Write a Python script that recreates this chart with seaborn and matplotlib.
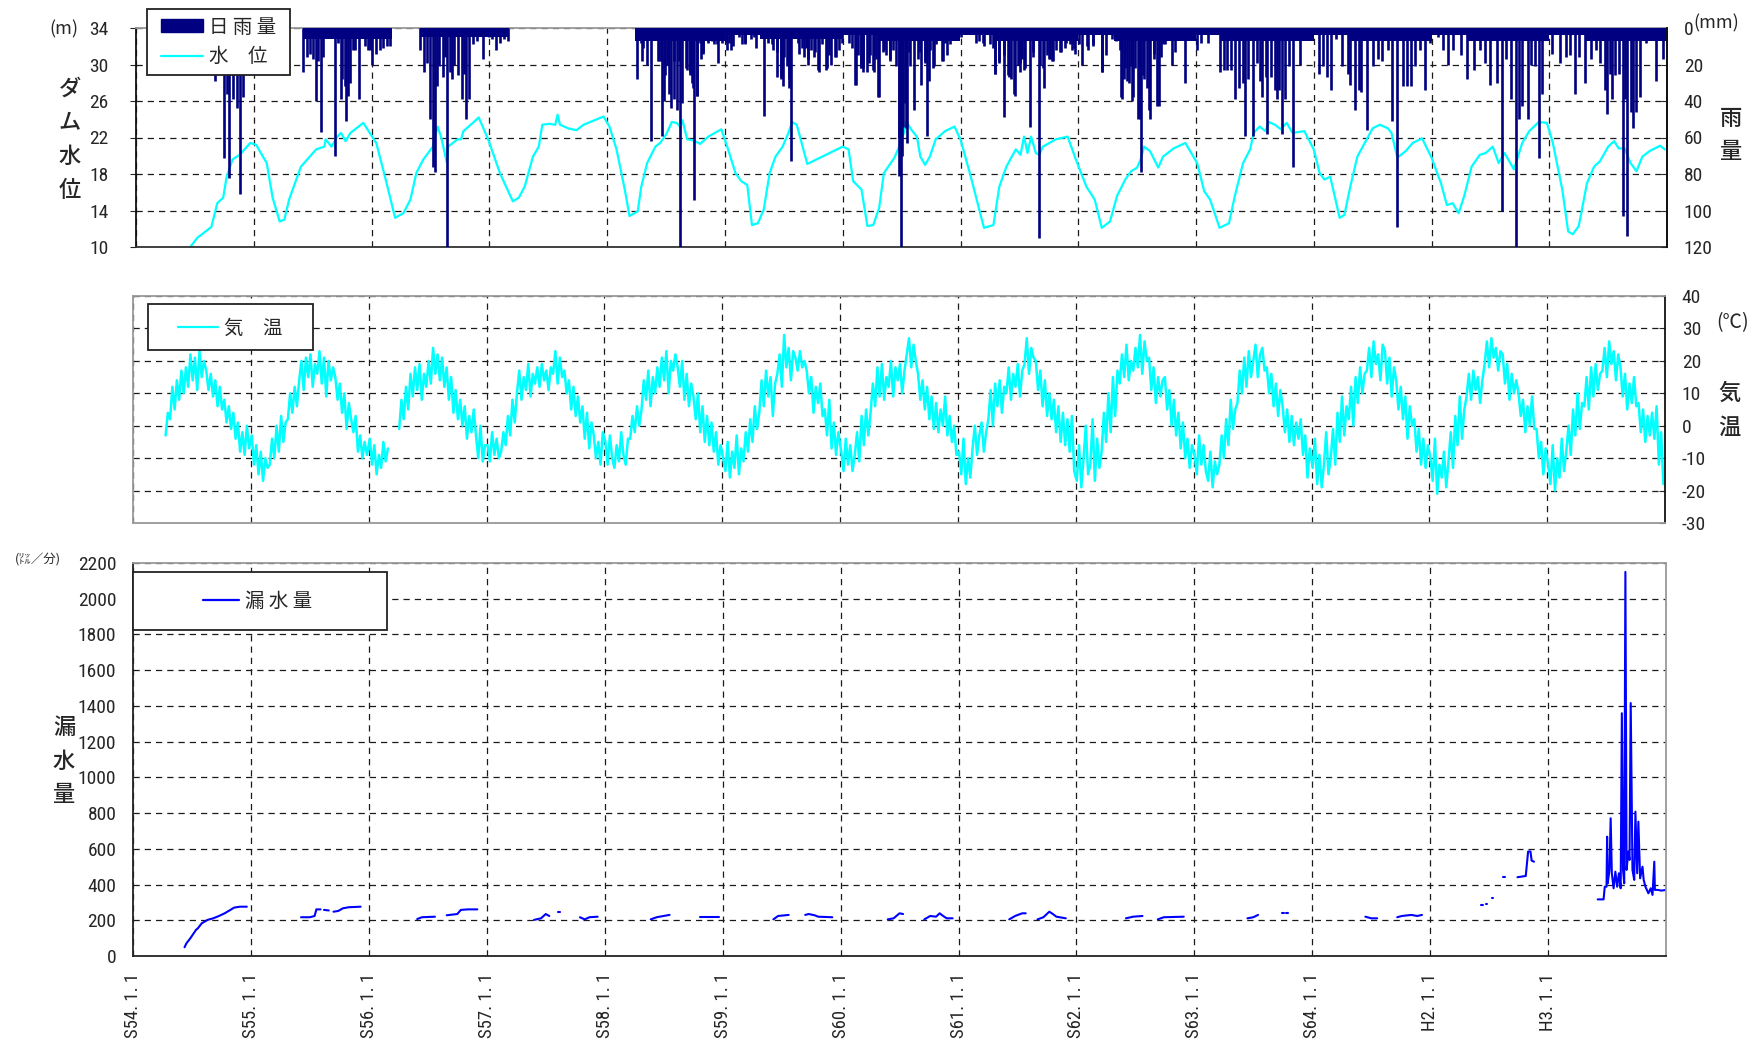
import numpy as np
import pandas as pd
import matplotlib
matplotlib.use("Agg")
import matplotlib.pyplot as plt
import matplotlib.font_manager as fm
import seaborn as sns
from matplotlib.patches import Rectangle, Patch
from matplotlib.lines import Line2D

nan = np.nan

# ---------------- data ----------------
year_tick_labels = ['S54. 1. 1', 'S55. 1. 1', 'S56. 1. 1', 'S57. 1. 1', 'S58. 1. 1',
                    'S59. 1. 1', 'S60. 1. 1', 'S61. 1. 1', 'S62. 1. 1', 'S63. 1. 1',
                    'S64. 1. 1', 'H2. 1. 1', 'H3. 1. 1']
first_year = 1979

# dam water level (years since 1979-01-01, metres)
wl_year = [0.46, 0.52, 0.64, 0.69, 0.74, 0.77, 0.82, 0.88, 0.97, 1.02, 1.11, 1.16, 1.22, 1.26, 1.30,
           1.40, 1.53, 1.60, 1.61, 1.66, 1.71, 1.74, 1.78, 1.82, 1.93, 2.04, 2.12, 2.20, 2.27, 2.33,
           2.38, 2.44, 2.52, 2.56, 2.59, 2.64, 2.65, 2.73, 2.76, 2.78, 2.86, 2.91, 2.99, 3.09, 3.20,
           3.25, 3.30, 3.37, 3.42, 3.45, 3.51, 3.56, 3.58, 3.60, 3.67, 3.74, 3.80, 3.97, 4.02, 4.08,
           4.15, 4.19, 4.26, 4.29, 4.34, 4.41, 4.45, 4.50, 4.55, 4.59, 4.62, 4.64, 4.68, 4.73, 4.79,
           4.86, 4.97, 5.02, 5.09, 5.14, 5.19, 5.23, 5.28, 5.33, 5.38, 5.43, 5.49, 5.54, 5.57, 5.61,
           5.70, 6.00, 6.05, 6.09, 6.16, 6.21, 6.26, 6.31, 6.35, 6.44, 6.48, 6.52, 6.54, 6.58, 6.63,
           6.66, 6.70, 6.74, 6.79, 6.87, 6.95, 7.00, 7.08, 7.20, 7.28, 7.33, 7.39, 7.47, 7.51, 7.54,
           7.57, 7.60, 7.64, 7.67, 7.70, 7.81, 7.91, 7.98, 8.07, 8.14, 8.20, 8.27, 8.33, 8.40, 8.45,
           8.50, 8.53, 8.56, 8.61, 8.68, 8.72, 8.81, 8.91, 9.01, 9.07, 9.12, 9.20, 9.28, 9.33, 9.40,
           9.46, 9.49, 9.54, 9.59, 9.62, 9.67, 9.72, 9.77, 9.82, 9.92, 10.00, 10.05, 10.09, 10.14, 10.22,
           10.26, 10.31, 10.37, 10.45, 10.50, 10.56, 10.63, 10.66, 10.71, 10.78, 10.84, 10.92, 11.00, 11.08, 11.13,
           11.18, 11.23, 11.28, 11.34, 11.41, 11.46, 11.52, 11.57, 11.62, 11.70, 11.77, 11.83, 11.91, 11.98, 12.03,
           12.11, 12.16, 12.20, 12.25, 12.32, 12.38, 12.43, 12.50, 12.55, 12.59, 12.64, 12.69, 12.74, 12.79, 12.85,
           12.94, 12.98]
wl_m = [10.0, 11.0, 12.2, 14.8, 15.4, 17.7, 19.6, 20.1, 21.4, 21.2, 19.2, 15.4, 12.8, 13.0, 15.2,
        18.8, 20.7, 21.0, 21.8, 21.0, 22.1, 22.5, 21.6, 22.5, 23.6, 21.4, 17.4, 13.2, 13.7, 15.2,
        18.1, 19.6, 21.0, 23.2, 22.1, 19.2, 21.0, 21.8, 21.8, 22.7, 23.6, 24.2, 21.8, 18.1, 15.0,
        15.4, 16.6, 19.9, 21.0, 23.4, 23.5, 23.4, 24.5, 23.4, 23.0, 22.8, 23.4, 24.3, 23.2, 20.7,
        16.3, 13.4, 13.9, 16.6, 19.2, 21.0, 21.4, 22.3, 23.7, 23.6, 23.2, 23.9, 21.8, 21.7, 21.3,
        22.1, 22.9, 21.0, 18.1, 17.2, 16.8, 12.4, 12.6, 14.1, 18.1, 19.9, 21.0, 22.5, 23.7, 23.4,
        19.1, 21.0, 20.7, 17.2, 16.3, 12.3, 12.4, 14.3, 18.1, 19.8, 21.0, 22.5, 23.8, 22.9, 22.1,
        19.9, 19.0, 19.9, 21.8, 22.7, 23.2, 21.8, 18.1, 12.1, 12.4, 16.6, 18.8, 20.7, 20.1, 22.1,
        20.3, 22.1, 20.3, 20.1, 21.0, 21.8, 22.1, 19.6, 16.6, 15.2, 12.1, 12.8, 15.6, 17.4, 18.3,
        18.7, 19.6, 21.0, 20.5, 18.7, 19.9, 20.8, 21.4, 19.2, 16.1, 15.2, 12.1, 12.6, 15.6, 19.2,
        20.7, 22.5, 23.2, 22.7, 23.7, 23.4, 22.9, 23.6, 22.5, 22.7, 20.7, 18.1, 17.4, 17.7, 13.2,
        13.5, 16.6, 19.9, 21.8, 23.0, 23.4, 23.0, 22.5, 19.8, 20.5, 21.4, 21.9, 19.8, 17.0, 14.6,
        14.8, 13.7, 15.7, 18.8, 20.1, 20.3, 21.0, 19.2, 20.3, 18.5, 21.4, 22.7, 23.7, 23.6, 21.4,
        16.3, 11.7, 11.4, 12.3, 17.0, 18.8, 19.4, 21.0, 21.6, 20.8, 20.8, 19.2, 18.3, 19.9, 20.5,
        21.1, 20.7]

# daily rainfall spikes (years since 1979-01-01, mm)
rain_year = [0.672, 0.705, 0.747, 0.769, 0.786, 0.825, 0.857, 0.883, 0.909, 1.247,
             1.419, 1.451, 1.474, 1.500, 1.526, 1.549, 1.575, 1.591, 1.688, 1.711, 1.737, 1.753,
             1.776, 1.786, 1.799, 1.818, 1.841, 1.857, 1.890, 1.948, 1.971, 1.987, 2.003, 2.036,
             2.068, 2.101, 2.133, 2.156,
             2.409, 2.448, 2.474, 2.500, 2.523, 2.539, 2.555, 2.571, 2.604, 2.620, 2.643, 2.669,
             2.685, 2.701, 2.734, 2.766, 2.782, 2.805, 2.831, 2.864, 2.896, 2.945, 2.994, 3.026,
             3.058, 3.091, 3.123, 3.156,
             4.250, 4.292, 4.341, 4.373, 4.406, 4.438, 4.464, 4.487, 4.510, 4.529, 4.545, 4.568,
             4.594, 4.607, 4.623, 4.640, 4.682, 4.705, 4.721, 4.740, 4.766, 4.789, 4.815, 4.860,
             4.942, 4.990, 5.039, 5.071, 5.120, 5.169, 5.218, 5.250, 5.331, 5.364, 5.412, 5.445,
             5.477, 5.526, 5.542, 5.565, 5.623, 5.672, 5.705, 5.753, 5.795, 5.867, 5.899, 5.938,
             5.997, 6.045, 6.110, 6.153, 6.175, 6.224, 6.256, 6.305, 6.354, 6.403, 6.451, 6.477,
             6.494, 6.516, 6.532, 6.549, 6.575, 6.607, 6.662, 6.695, 6.718, 6.743, 6.776, 6.841,
             6.873, 6.938, 7.003, 7.133, 7.198, 7.295, 7.328, 7.367, 7.409, 7.458, 7.506, 7.539,
             7.594, 7.620, 7.669, 7.708, 7.750, 7.782, 7.847, 7.896, 7.945, 7.977, 8.010, 8.075,
             8.123, 8.205, 8.286, 8.318, 8.360, 8.393, 8.432, 8.464, 8.513, 8.536, 8.562, 8.604,
             8.643, 8.682, 8.724, 8.773, 8.821,
             8.909, 8.958, 9.006, 9.039, 9.104, 9.169, 9.201, 9.234, 9.266, 9.299, 9.331, 9.364,
             9.396, 9.419, 9.445, 9.484, 9.519, 9.542, 9.558, 9.591, 9.607, 9.640, 9.672, 9.688,
             9.705, 9.727, 9.753, 9.786, 9.825, 9.883, 9.932, 9.981, 10.045, 10.078, 10.110, 10.143,
             10.192, 10.240, 10.289, 10.305, 10.354, 10.386, 10.403, 10.451, 10.500, 10.549, 10.581, 10.630,
             10.662, 10.711, 10.760, 10.792, 10.825, 10.857, 10.906, 10.948, 10.987, 11.052, 11.101, 11.143,
             11.182, 11.247, 11.302, 11.360, 11.409, 11.458, 11.497, 11.555, 11.597, 11.636, 11.675, 11.718,
             11.744, 11.766, 11.815, 11.847, 11.880, 11.912, 11.938, 11.977, 12.026, 12.091, 12.140, 12.172,
             12.221, 12.253, 12.302, 12.351, 12.399, 12.432, 12.474, 12.490, 12.513, 12.529, 12.562, 12.594,
             12.627, 12.643, 12.659, 12.692, 12.708, 12.740, 12.773, 12.821, 12.854, 12.903, 12.935, 12.968]
rain_mm = [29, 23, 71, 36, 82, 39, 44, 91, 38, 26,
           24, 16, 14, 17, 40, 18, 57, 16, 70, 8, 39, 28,
           32, 51, 37, 30, 12, 12, 39, 10, 12, 12, 20, 14,
           12, 11, 10, 10,
           12, 24, 19, 50, 76, 79, 32, 21, 27, 16, 120, 24,
           28, 20, 26, 39, 25, 50, 39, 9, 7, 17, 5, 6,
           12, 8, 6, 7,
           28, 8, 20, 62, 3, 18, 59, 40, 20, 36, 44, 39,
           45, 18, 120, 41, 23, 26, 30, 94, 37, 8, 14, 8,
           19, 6, 8, 10, 5, 8, 6, 5, 48, 8, 12, 27,
           28, 21, 33, 73, 8, 16, 20, 16, 24, 22, 20, 16,
           8, 3, 31, 22, 24, 19, 23, 38, 12, 17, 21, 81,
           120, 54, 41, 63, 21, 45, 31, 19, 59, 12, 21, 18,
           8, 5, 5, 8, 10, 25, 19, 49, 27, 36, 19, 23,
           54, 16, 115, 33, 17, 18, 13, 8, 12, 14, 9, 10,
           9, 24, 6, 7, 38, 28, 30, 38, 29, 79, 28, 45,
           14, 43, 9, 5, 4,
           30, 6, 12, 8, 8, 3, 24, 23, 23, 23, 39, 33,
           30, 59, 28, 59, 19, 29, 38, 27, 58, 27, 34, 39,
           34, 58, 39, 21, 76, 20, 6, 5, 25, 21, 27, 34,
           6, 21, 25, 31, 45, 34, 35, 56, 21, 17, 18, 12,
           51, 109, 32, 32, 32, 21, 12, 34, 8, 5, 12, 20,
           12, 15, 28, 23, 12, 19, 31, 30, 100, 17, 39, 120,
           50, 43, 50, 20, 21, 71, 36, 3, 14, 19, 16, 15,
           36, 16, 30, 17, 12, 19, 34, 47, 25, 39, 26, 25,
           103, 39, 114, 46, 55, 46, 38, 8, 6, 29, 5, 17]

# further daily readings read from the dense 1983-1987 stretch
rain2_year = [4.294, 4.309, 4.430, 4.461, 4.491, 4.521, 4.567, 4.673, 4.703, 4.733, 4.764, 4.794, 4.818,
              4.855, 4.891, 4.909, 4.930, 4.976, 5.006, 5.021, 5.052, 5.142, 5.173, 5.264, 5.400, 5.445,
              5.476, 5.491, 5.506, 5.536, 5.545, 5.627, 5.658, 5.688, 5.703, 5.733, 5.764, 5.794, 5.824,
              5.855, 5.885, 5.945, 5.970, 6.052, 6.082, 6.106, 6.127, 6.152, 6.173, 6.203, 6.233, 6.264,
              6.279, 6.303, 6.339, 6.370, 6.400, 6.430, 6.476, 6.506, 6.536, 6.567, 6.642, 6.658, 6.697,
              6.733, 6.764, 6.794, 6.855, 6.885, 6.915, 7.158, 7.188, 7.248, 7.279, 7.294, 7.324, 7.370,
              7.400, 7.430, 7.461, 7.485, 7.506, 7.521, 7.552, 7.612, 7.673, 7.703, 7.733, 7.764, 7.779,
              7.809, 7.855, 7.885, 7.930, 7.961, 8.036, 8.082, 8.127, 8.203, 8.233, 8.355, 8.370, 8.394,
              8.415, 8.445, 8.461, 8.485, 8.506, 8.527, 8.552, 8.582, 8.612, 8.642, 8.673, 8.703, 8.733,
              8.794, 8.824]
rain2_mm = [18, 11, 18, 18, 26, 18, 18, 22, 24, 33, 37, 17, 13,
            7, 7, 9, 9, 8, 8, 12, 12, 9, 9, 11, 9, 13,
            27, 32, 16, 16, 28, 14, 11, 11, 17, 12, 13, 23, 9,
            23, 15, 16, 12, 8, 11, 31, 15, 22, 22, 24, 15, 24,
            17, 38, 13, 15, 18, 12, 60, 70, 55, 13, 17, 13, 18,
            29, 22, 9, 18, 15, 9, 7, 8, 9, 11, 25, 18, 15,
            26, 28, 37, 20, 24, 17, 22, 13, 20, 22, 15, 17, 18,
            12, 13, 11, 9, 11, 20, 12, 10, 24, 15, 12, 39, 22,
            29, 21, 40, 22, 50, 50, 26, 33, 50, 17, 43, 16, 9,
            20, 13]

# dense light-rain band hanging from the top (start year, end year, depth mm)
rain_band_start = [0.60, 1.42, 2.41, 4.24, 5.00, 5.30, 6.00, 6.30, 7.00, 7.30,
                   8.00, 8.30, 9.00, 9.20, 10.00, 10.30, 11.00, 11.30, 12.00, 12.30]
rain_band_end = [1.30, 2.17, 3.17, 5.00, 5.30, 6.00, 6.30, 7.00, 7.30, 8.00,
                 8.30, 9.00, 9.20, 10.00, 10.30, 11.00, 11.30, 12.00, 12.30, 13.00]
rain_band_mm = [5, 6, 5, 7, 4, 6, 4, 7, 4, 7,
                4, 7, 4, 7, 4, 7, 4, 7, 4, 7]

# air temperature, weekly readings per calendar year (deg C)
temp_1979 = [nan] * 14 + [-3, 4, 2, 12, 5, 14, 8, 17, 10, 18, 12, 22, 14, 21, 11, 23, 15, 20, 17, 11,
                          16, 9, 14, 6, 12, 5, 8, 1, 6, -1, 4, -4, 1, -8, -2, -9, 0, -7]
temp_1980 = [-3, -12, -6, -15, -8, -17, -10, -13, -12, -4, -10, 0, -8, 3, -5, 1, 2, 10, 4, 12, 6, 14, 20, 11,
             21, 15, 22, 12, 19, 16, 23, 13, 21, 9, 20, 14, 18, 15, 8, 13, 4, 10, -1, 7, 2, -2, 3, -8, -3,
             -10, -5, -9]
temp_1981 = [-4, -12, -6, -15, -9, -13, -5, -11, -7, nan, nan, nan, nan, -1, 8, 2, 12, 5, 16, 9, 18, 11, 19,
             8, 16, 12, 20, 13, 24, 16, 22, 14, 21, 12, 18, 8, 15, 4, 11, 2, 8, 0, 6, -4, 3, -2, 5, -3, -10,
             0, -11, -6]
temp_1982 = [-6, -11, -2, -9, -4, -10, -8, -2, -6, 3, -3, 8, 1, 10, 17, 8, 15, 11, 19, 9, 16, 13, 18, 12, 19,
             14, 17, 11, 18, 16, 23, 13, 21, 15, 17, 10, 14, 5, 12, 3, 9, 1, 6, -4, 4, -7, 1, -3, -10, -5,
             -12, -2]
temp_1983 = [-5, -12, -3, -10, -13, -6, -11, -2, -9, -12, -4, -4, 3, -2, 6, 0, 5, 14, 8, 17, 6, 15, 10, 18,
             12, 21, 14, 23, 10, 20, 17, 22, 18, 12, 20, 8, 16, 6, 13, 9, 2, 10, -2, 6, -5, 3, -6, 1, -8, -2,
             -12, -6]
temp_1984 = [-10, -14, -5, -16, -8, -13, -3, -15, -7, -11, -2, -8, 2, -5, 6, -1, 4, 14, 6, 17, 9, 15, 3, 13,
             16, 22, 12, 28, 18, 24, 14, 23, 21, 17, 23, 18, 20, 17, 10, 15, 4, 12, 7, 13, 3, 5, -3, 8, -7,
             1, -9, -2]
temp_1985 = [-8, -14, -4, -12, -6, -14, -9, -2, -11, 3, -6, 5, -3, 4, 13, 6, 18, 9, 19, 8, 15, 12, 20, 9, 18,
             14, 19, 10, 17, 22, 27, 18, 25, 20, 16, 8, 14, 5, 12, 2, 9, -1, 7, -2, 5, 0, 9, -3, 3, -5, 0, -9]
temp_1986 = [-8, -15, -4, -18, -10, -16, -7, 0, -9, -3, 1, -8, -2, 2, 11, 0, 13, 6, 14, 4, 12, 10, 18, 8, 16,
             12, 19, 9, 17, 19, 27, 16, 24, 21, 20, 11, 17, 6, 14, 3, 10, 2, 8, -2, 6, -5, 4, -6, 2, -8, 3,
             -14]
temp_1987 = [-17, -6, -19, -10, 0, -15, -12, 2, -17, -4, -13, -8, 4, -5, 10, -2, 15, 3, 17, 13, 22, 15, 25,
             14, 20, 17, 24, 18, 28, 16, 26, 20, 21, 11, 18, 7, 15, 9, 14, 15, 5, 11, 0, 8, -3, 4, -7, 1,
             -10, -4, -13, -6]
temp_1988 = [-9, -15, -3, -12, -6, -14, -17, -8, -19, -11, -15, -12, -3, -10, 2, -6, 8, -1, 5, 7, 17, 10, 21,
             12, 23, 15, 20, 25, 15, 22, 24, 17, 18, 10, 16, 6, 13, 3, 11, 6, -2, 5, -5, 3, -6, 1, -4, 2, -9,
             -3, -16, -7]
temp_1989 = [-13, -4, -18, -9, -19, -12, -2, -15, -10, -1, -12, 4, -5, 9, -3, 6, 2, 12, 0, 15, 7, 18, 10, 16,
             17, 24, 15, 26, 19, 22, 14, 25, 23, 13, 21, 9, 18, 14, 5, 12, 2, 9, -4, 6, 0, 2, -8, -1, -12,
             -4, -13, -6]
temp_1990 = [-10, -17, -4, -21, -12, -16, -8, -19, -11, -2, -13, 3, -6, 9, -4, 5, 9, 16, 8, 17, 11, 15, 7,
             14, 19, 26, 18, 27, 21, 24, 17, 23, 22, 13, 19, 8, 16, 10, 14, 10, 3, 8, -2, 6, 0, 9, -1, -1,
             -10, -5, -15, -7]
temp_1991 = [-12, -18, -6, -20, -10, -16, -4, -14, -8, 0, -9, 5, -3, 10, -1, 7, 6, 15, 5, 18, 9, 19, 11, 16,
             17, 24, 15, 26, 19, 23, 14, 22, 18, 9, 16, 5, 13, 7, 15, 6, 7, -2, 5, -5, 3, -3, 4, -4, 6, -12,
             -2, -18]

# leakage (years since 1979-01-01, litres/min, record segment id)
leak_year = [0.437, 0.453, 0.486, 0.534, 0.550, 0.583, 0.632, 0.680, 0.729, 0.777, 0.826, 0.858, 0.907, 0.965,
             1.425, 1.500, 1.540, 1.555, 1.590, 1.620, 1.660, 1.700, 1.740, 1.780, 1.830, 1.930,
             2.410, 2.450, 2.560, 2.660, 2.750, 2.780, 2.840, 2.920,
             3.400, 3.460, 3.500, 3.530, 3.600, 3.620, 3.790, 3.830, 3.870, 3.940,
             4.390, 4.440, 4.550, 4.810, 4.970,
             5.430, 5.470, 5.560, 5.700, 5.730, 5.780, 5.810, 5.930,
             6.400, 6.450, 6.500, 6.530, 6.710, 6.760, 6.810, 6.840, 6.870, 6.900, 6.950,
             7.430, 7.480, 7.540, 7.570, 7.670, 7.720, 7.770, 7.800, 7.830, 7.910,
             8.420, 8.480, 8.560, 8.690, 8.740, 8.910,
             9.450, 9.500, 9.540, 9.740, 9.760, 9.780, 9.790,
             10.450, 10.500, 10.550, 10.720, 10.760, 10.840, 10.890, 10.930,
             11.430, 11.450, 11.470, 11.480, 11.520, 11.530, 11.620, 11.630,
             11.740, 11.810, 11.830, 11.850, 11.860, 11.880,
             12.420, 12.470, 12.480, 12.495, 12.500, 12.505, 12.520, 12.530, 12.540, 12.555, 12.570,
             12.585, 12.600, 12.615, 12.625, 12.635, 12.645, 12.655, 12.665, 12.680, 12.690, 12.700,
             12.715, 12.730, 12.740, 12.755, 12.765, 12.780, 12.800, 12.810, 12.825, 12.850, 12.870,
             12.885, 12.900, 12.905, 12.930, 12.960, 13.000]
leak_lpm = [49, 71, 99, 146, 155, 183, 202, 211, 224, 239, 258, 271, 276, 276,
            217, 217, 224, 261, 261, 258, 255, 248, 252, 267, 273, 276,
            207, 217, 220, 228, 235, 258, 261, 261,
            202, 211, 235, 224, 245, 245, 217, 205, 217, 220,
            205, 217, 230, 217, 217,
            205, 224, 230, 230, 235, 228, 220, 217,
            205, 211, 239, 235, 205, 224, 220, 239, 224, 211, 211,
            205, 224, 239, 239, 205, 217, 248, 235, 220, 211,
            211, 220, 224, 205, 217, 220,
            211, 217, 230, 239, 239, 239, 239,
            220, 211, 211, 217, 224, 230, 224, 230,
            286, 286, 291, 291, 327, 327, 441, 441,
            441, 448, 585, 585, 534, 528,
            317, 317, 388, 388, 668, 407, 482, 771, 463, 379, 472,
            388, 463, 379, 1359, 482, 407, 2150, 482, 585, 538, 1416,
            482, 426, 808, 463, 752, 435, 500, 426, 388, 351, 379,
            342, 528, 370, 370, 366, 370]
leak_seg = [1] * 14 + [2] * 5 + [3] * 2 + [4] * 5 + [5] * 3 + [6] * 5 + [7] * 4 + [8] * 2 + [9] * 4 + \
           [10] * 3 + [11] * 2 + [12] * 3 + [13] * 5 + [14] * 4 + [15] * 7 + [16] * 4 + [17] * 6 + \
           [18] * 3 + [19] * 3 + [20] * 3 + [21] * 2 + [22] * 2 + [23] * 3 + [24] * 5 + \
           [25] * 2 + [26] * 2 + [27] * 2 + [28] * 2 + [29] * 6 + [30] * 39

# ---------------- helpers ----------------
BASE = pd.Timestamp('1979-01-01')


def to_dates(years):
    return BASE + pd.to_timedelta(np.asarray(years, dtype=float) * 365.25, unit='D')


W, H = 1765, 1044


def fx(px):
    return px / W


def fy(py):
    return 1 - py / H


NAVY = '#000080'
CYAN = '#00FFFF'
BLUE = '#0000FF'
GRID = dict(color='#1a1a1a', linestyle=(0, (5, 4)), linewidth=0.9)

sns.set_style('white')

# pick a narrow latin face for the numbers if one is installed
_fonts = fm.fontManager.ttflist
_names = {f.name for f in _fonts}
NUM_FAMILY = None
NUM_STRETCH = 'normal'
for cand in ['Roboto Condensed', 'Liberation Sans Narrow', 'Arial Narrow', 'Open Sans Condensed',
             'DejaVu Sans Condensed', 'Noto Sans Condensed']:
    if cand in _names:
        NUM_FAMILY = cand
        break
if NUM_FAMILY is None:
    cond = [f for f in _fonts if 'ondensed' in f.fname or 'Narrow' in f.fname]
    if cond:
        NUM_FAMILY = cond[0].name
        NUM_STRETCH = cond[0].stretch
if NUM_FAMILY is None:
    NUM_FAMILY = 'Liberation Sans'

plt.rcParams['font.family'] = [NUM_FAMILY, 'Noto Sans CJK JP', 'DejaVu Sans']
plt.rcParams['font.stretch'] = NUM_STRETCH
plt.rcParams['axes.unicode_minus'] = False
JP = ['Noto Sans CJK JP', 'DejaVu Sans']
NUMSIZE = 14

fig = plt.figure(figsize=(W / 100, H / 100), dpi=100)
ax_wl = fig.add_axes([fx(136), fy(247), (1667 - 136) / W, (247 - 28) / H])
ax_t = fig.add_axes([fx(133), fy(523), (1665 - 133) / W, (523 - 296) / H])
ax_lk = fig.add_axes([fx(133), fy(956), (1666 - 133) / W, (956 - 563) / H])

xmin, xmax = pd.Timestamp('1979-01-01'), pd.Timestamp('1992-01-01')
tick_dates = [pd.Timestamp(first_year + i, 1, 1) for i in range(len(year_tick_labels))]


def style_axes(ax, spine_colors):
    ax.set_xlim(xmin, xmax)
    ax.set_xticks(tick_dates)
    ax.grid(True, **GRID)
    ax.set_axisbelow(True)
    for side, c in spine_colors.items():
        ax.spines[side].set_color(c)
        ax.spines[side].set_linewidth(1.3)
    ax.set_xlabel('')
    ax.set_ylabel('')


# ---- top panel: water level + rainfall ----
wl_df = pd.DataFrame({'date': to_dates(wl_year), 'level': wl_m})
sns.lineplot(data=wl_df, x='date', y='level', ax=ax_wl, color=CYAN, lw=1.6, estimator=None, sort=False)
ax_wl.set_ylim(10, 34)
ax_wl.set_yticks(range(10, 35, 4))
style_axes(ax_wl, {'top': '#999999', 'left': '#111111', 'bottom': '#333333', 'right': '#111111'})
ax_wl.tick_params(axis='x', length=0, labelbottom=False)
ax_wl.tick_params(axis='y', direction='out', length=4, pad=16, labelsize=NUMSIZE)

ax_rain = ax_wl.twinx()
for s, e, d in zip(rain_band_start, rain_band_end, rain_band_mm):
    dd = to_dates([s, e])
    ax_rain.fill_between(dd, [0, 0], [d, d], color=NAVY, lw=0)
ax_rain.vlines(to_dates(rain_year), 0, rain_mm, color=NAVY, lw=1.9)
ax_rain.vlines(to_dates(rain2_year), 0, rain2_mm, color=NAVY, lw=1.9)
ax_rain.set_ylim(120, 0)
ax_rain.set_yticks(range(0, 121, 20))
ax_rain.set_xlim(xmin, xmax)
ax_rain.tick_params(axis='y', direction='in', length=4, pad=12, labelsize=NUMSIZE)
ax_rain.tick_params(axis='x', length=0, labelbottom=False)
for side in ['top', 'left', 'bottom']:
    ax_rain.spines[side].set_visible(False)
ax_rain.spines['right'].set_color('#111111')
ax_rain.spines['right'].set_linewidth(1.3)
ax_rain.grid(False)

# ---- middle panel: air temperature ----
t_years = [temp_1979, temp_1980, temp_1981, temp_1982, temp_1983, temp_1984, temp_1985,
           temp_1986, temp_1987, temp_1988, temp_1989, temp_1990, temp_1991]
rows = []
seg = 0
for i, vals in enumerate(t_years):
    for w, v in enumerate(vals):
        if np.isnan(v):
            seg += 1
            continue
        rows.append((pd.Timestamp(first_year + i, 1, 1) + pd.Timedelta(days=7 * w + 3), v, seg))
t_df = pd.DataFrame(rows, columns=['date', 'temp', 'seg'])
sns.lineplot(data=t_df, x='date', y='temp', units='seg', estimator=None, ax=ax_t, color=CYAN, lw=1.8)
ax_t.set_ylim(-30, 40)
ax_t.set_yticks(range(-30, 41, 10))
style_axes(ax_t, {'top': '#999999', 'left': '#999999', 'bottom': '#999999', 'right': '#111111'})
ax_t.yaxis.tick_right()
ax_t.tick_params(axis='x', length=0, labelbottom=False)
ax_t.tick_params(axis='y', direction='in', length=4, pad=12, labelsize=NUMSIZE,
                 left=False, labelleft=False, right=True, labelright=True)

# ---- bottom panel: leakage ----
lk_df = pd.DataFrame({'date': to_dates(leak_year), 'leak': leak_lpm, 'seg': leak_seg})
sns.lineplot(data=lk_df, x='date', y='leak', units='seg', estimator=None, ax=ax_lk, color=BLUE, lw=1.5)
ax_lk.set_ylim(0, 2200)
ax_lk.set_yticks(range(0, 2201, 200))
style_axes(ax_lk, {'top': '#999999', 'right': '#999999', 'left': '#222222', 'bottom': '#222222'})
ax_lk.tick_params(axis='y', direction='out', length=4, pad=8, labelsize=NUMSIZE)
ax_lk.tick_params(axis='x', direction='in', length=5, pad=12, labelsize=13.5)
ax_lk.set_xticklabels(year_tick_labels, rotation=90, ha='center', va='top')

# ---- legends (frame drawn as rectangle in figure pixels) ----
def frame(x0, y0, x1, y1):
    fig.add_artist(Rectangle((fx(x0), fy(y1)), (x1 - x0) / W, (y1 - y0) / H, transform=fig.transFigure,
                             facecolor='white', edgecolor='#222222', lw=1.3, zorder=4))


frame(147, 9, 290, 75)
fig.legend([Patch(facecolor=NAVY, edgecolor=NAVY), Line2D([], [], color=CYAN, lw=1.6)],
           ['日 雨 量', '水　位'], loc='center left', bbox_to_anchor=(fx(161), fy(42)),
           frameon=False, borderpad=0, borderaxespad=0, handlelength=2.16, handleheight=0.62,
           handletextpad=0.3, labelspacing=0.45, prop={'family': JP, 'size': 14})

frame(148, 304, 313, 350)
fig.legend([Line2D([], [], color=CYAN, lw=1.6)], ['気　温'], loc='center left',
           bbox_to_anchor=(fx(178), fy(328)), frameon=False, borderpad=0, borderaxespad=0,
           handlelength=2.06, handletextpad=0.3, prop={'family': JP, 'size': 14})

frame(133, 572, 387, 630)
fig.legend([Line2D([], [], color=BLUE, lw=1.6)], ['漏 水 量'], loc='center left',
           bbox_to_anchor=(fx(203), fy(601)), frameon=False, borderpad=0, borderaxespad=0,
           handlelength=1.86, handletextpad=0.3, prop={'family': JP, 'size': 14})

# ---- axis titles / units ----
fig.text(fx(64), fy(29), '(m)', ha='center', va='center', fontsize=13, family=JP)
fig.text(fx(70), fy(140), 'ダ\nム\n水\n位', ha='center', va='center', fontsize=16, family=JP,
         linespacing=1.6, fontweight='medium')
fig.text(fx(1693), fy(23), '(mm)', ha='left', va='center', fontsize=13, family=JP)
fig.text(fx(1731), fy(135), '雨\n量', ha='center', va='center', fontsize=16, family=JP,
         linespacing=1.6, fontweight='medium')
fig.text(fx(1716), fy(323), '(℃)', ha='left', va='center', fontsize=14, family=JP)
fig.text(fx(1729), fy(410), '気\n温', ha='center', va='center', fontsize=16, family=JP,
         linespacing=1.6, fontweight='medium')
fig.text(fx(38), fy(560), '(㍑／分)', ha='center', va='center', fontsize=9, family=JP)
fig.text(fx(64), fy(761), '漏\n水\n量', ha='center', va='center', fontsize=16, family=JP,
         linespacing=1.6, fontweight='medium')

fig.savefig('out.png', dpi=100)
